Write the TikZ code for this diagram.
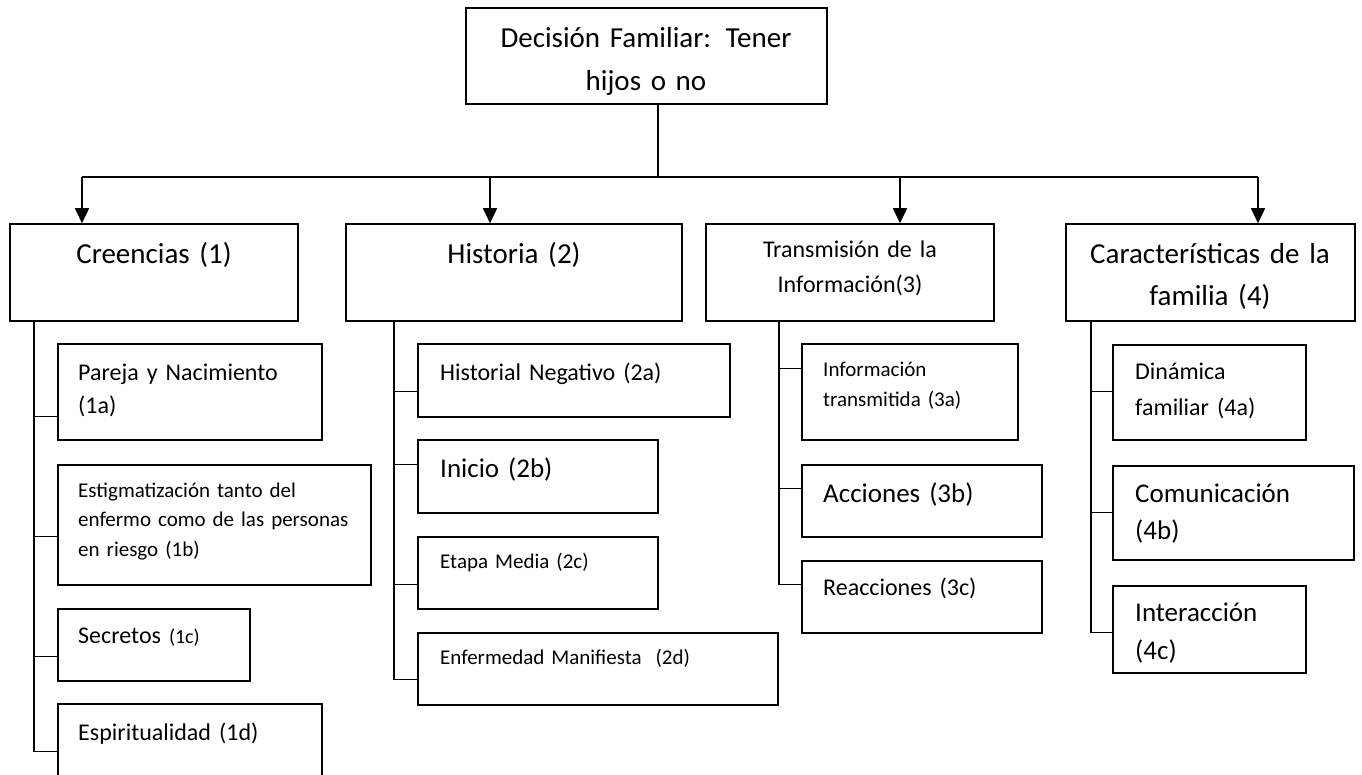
\documentclass[tikz,border=0pt]{standalone}
\usepackage{fontspec}
\setmainfont{Carlito}
\usetikzlibrary{arrows.meta,calc,fit}
\begin{document}
\begin{tikzpicture}[x=1pt,y=-1pt,
  box/.style={draw, line width=1.5pt, inner sep=0pt},
  conn/.style={draw, line width=1.5pt},
  arr/.style={draw, line width=1.5pt, -{Triangle[width=14pt,length=15pt]}},
  lbl/.style={inner sep=0pt, align=left, anchor=base west, text width=330pt},
  ctr/.style={inner sep=0pt, align=center, anchor=base, text width=330pt},
  fA/.style={font=\fontsize{29}{43}\selectfont},
  fB/.style={font=\fontsize{27}{37}\selectfont},
  fC/.style={font=\fontsize{24}{33}\selectfont},
  fD/.style={font=\fontsize{21}{29.5}\selectfont}]
\useasboundingbox (0,0) rectangle (1362,775);
% top
\node[box, fit={(466,8)(827,104)}] (top) {};
\node[ctr, fA] (top-t) at (646,48) {Decisión Familiar: Tener\\hijos o no};
% level 1
\node[box, fit={(10,224)(298,321)}] (C1) {};
\node[ctr, fA] (C1-t) at (154,264) {Creencias (1)};
\node[box, fit={(346,224)(682,321)}] (C2) {};
\node[ctr, fA] (C2-t) at (514,264) {Historia (2)};
\node[box, fit={(706,224)(994,321)}] (C3) {};
\node[ctr, fC, font=\fontsize{24}{35}\selectfont] (C3-t) at (850,258) {Transmisión de la\\Información(3)};
\node[box, fit={(1066,224)(1355,321)}] (C4) {};
\node[ctr, fA, font=\fontsize{29}{42}\selectfont] (C4-t) at (1210,264) {Características de la\\familia (4)};
% column 1
\node[box, fit={(58,344)(322,440)}] (a1) {};
\node[lbl, fC] (a1-t) at (78,380) {Pareja y Nacimiento\\(1a)};
\node[box, fit={(58,465)(371,585)}] (b1) {};
\node[lbl, fD] (b1-t) at (78,497) {Estigmatización tanto del\\enfermo como de las personas\\en riesgo (1b)};
\node[box, fit={(58,609)(250,681)}] (c1) {};
\node[lbl, fC] (c1-t) at (78,643) {Secretos {\fontsize{20}{24}\selectfont(1c)}};
\node[box, fit={(58,704)(322,800)}] (d1) {};
\node[lbl, fC] (d1-t) at (78,740) {Espiritualidad (1d)};
% column 2
\node[box, fit={(418,344)(730,417)}] (a2) {};
\node[lbl, fC] (a2-t) at (440,380) {Historial Negativo (2a)};
\node[box, fit={(418,440)(658,513)}] (b2) {};
\node[lbl, fB] (b2-t) at (440,477) {Inicio (2b)};
\node[box, fit={(418,537)(658,609)}] (c2) {};
\node[lbl, fD] (c2-t) at (440,568) {Etapa Media (2c)};
\node[box, fit={(418,633)(778,705)}] (d2) {};
\node[lbl, fD] (d2-t) at (440,664) {Enfermedad Manifiesta~~(2d)};
% column 3
\node[box, fit={(802,344)(1018,440)}] (a3) {};
\node[lbl, fD, font=\fontsize{21}{30}\selectfont] (a3-t) at (823,376) {Información\\transmitida (3a)};
\node[box, fit={(802,465)(1042,537)}] (b3) {};
\node[lbl, fB] (b3-t) at (823,502) {Acciones (3b)};
\node[box, fit={(802,561)(1042,633)}] (c3) {};
\node[lbl, fC] (c3-t) at (823,595) {Reacciones (3c)};
% column 4
\node[box, fit={(1113,345)(1306,440)}] (a4) {};
\node[lbl, fC, font=\fontsize{24}{36}\selectfont] (a4-t) at (1135,379) {Dinámica\\familiar (4a)};
\node[box, fit={(1113,466)(1354,560)}] (b4) {};
\node[lbl, fB] (b4-t) at (1135,502) {Comunicación\\(4b)};
\node[box, fit={(1113,586)(1306,673)}] (c4) {};
\node[lbl, fB, font=\fontsize{27}{38}\selectfont] (c4-t) at (1135,621) {Interacción\\(4c)};
% bus and arrows
\coordinate (bus) at (658,177);
\coordinate (k1) at (82,177);
\coordinate (k2) at (490,177);
\coordinate (k3) at (900,177);
\coordinate (k4) at (1258,177);
\draw[conn] (top.south -| bus) -- (bus);
\draw[conn] (k1) -- (k4);
\draw[arr] (k1) -- (k1 |- C1.north);
\draw[arr] (k2) -- (k2 |- C2.north);
\draw[arr] (k3) -- (k3 |- C3.north);
\draw[arr] (k4) -- (k4 |- C4.north);
% trunks
\coordinate (t1) at (34,400);
\coordinate (t2) at (394,400);
\coordinate (t3) at (779,400);
\coordinate (t4) at (1091,400);
\draw[conn] (t1 |- C1.south) |- ($(a1.north west)+(0,73)$);
\draw[conn] (t1 |- C1.south) |- ($(b1.north west)+(0,72)$);
\draw[conn] (t1 |- C1.south) |- ($(c1.north west)+(0,48)$);
\draw[conn] (t1 |- C1.south) |- ($(d1.north west)+(0,48)$);
\draw[conn] (t2 |- C2.south) |- ($(a2.north west)+(0,48)$);
\draw[conn] (t2 |- C2.south) |- ($(b2.north west)+(0,25)$);
\draw[conn] (t2 |- C2.south) |- ($(c2.north west)+(0,48)$);
\draw[conn] (t2 |- C2.south) |- ($(d2.north west)+(0,47)$);
\draw[conn] (t3 |- C3.south) |- ($(a3.north west)+(0,25)$);
\draw[conn] (t3 |- C3.south) |- ($(b3.north west)+(0,24)$);
\draw[conn] (t3 |- C3.south) |- ($(c3.north west)+(0,24)$);
\draw[conn] (t4 |- C4.south) |- ($(a4.north west)+(0,47)$);
\draw[conn] (t4 |- C4.south) |- ($(b4.north west)+(0,47)$);
\draw[conn] (t4 |- C4.south) |- ($(c4.north west)+(0,47)$);
\end{tikzpicture}
\end{document}
